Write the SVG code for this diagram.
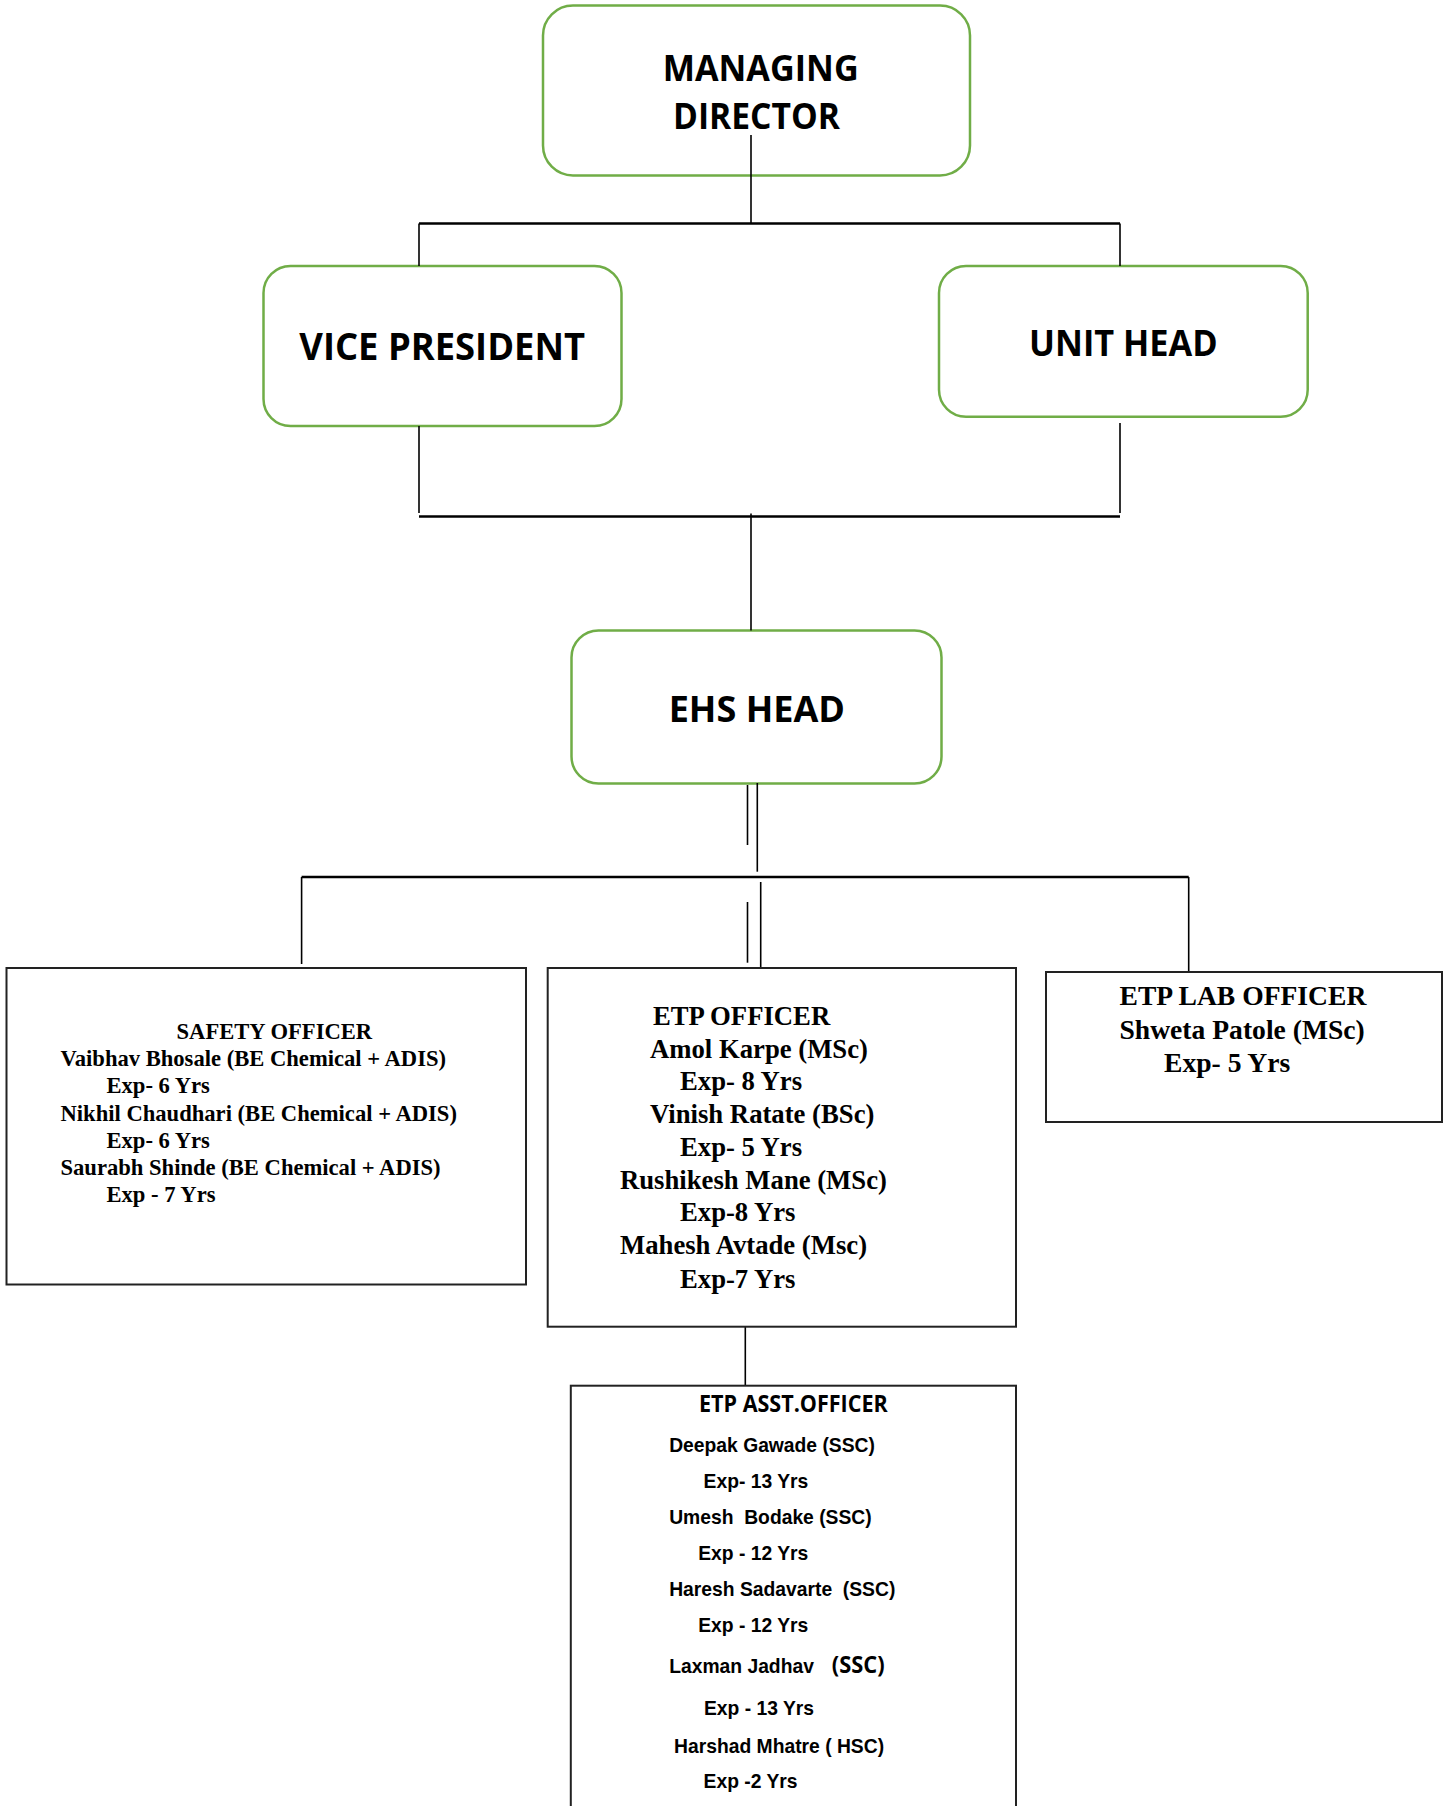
<svg xmlns="http://www.w3.org/2000/svg" width="1450" height="1806" viewBox="0 0 1450 1806">
<style>
.rbox{fill:#fff;stroke:#70AD47;stroke-width:2.5}
.sbox{fill:#fff;stroke:#222;stroke-width:2}
.conn line{stroke:#000;stroke-width:1.6}
.conn .thick{stroke-width:2.6}
.hd{font-family:"Open Sans","Liberation Sans",sans-serif;font-weight:bold;fill:#000}
.tm{font-family:"Liberation Serif","Times New Roman",serif;font-weight:bold;fill:#000}
.ar{font-family:"Liberation Sans",Arial,sans-serif;font-weight:bold;font-size:19.3px;fill:#000;white-space:pre}
</style>
<rect width="1450" height="1806" fill="#fff"/>

<g id="node-md">
<rect class="rbox" x="543" y="5.5" width="427" height="170" rx="30"/>
<text class="hd" x="662.7" y="81" font-size="36" textLength="196" lengthAdjust="spacingAndGlyphs">MANAGING</text>
<text class="hd" x="673" y="129" font-size="36" textLength="167" lengthAdjust="spacingAndGlyphs">DIRECTOR</text>
</g>

<g id="node-vp">
<rect class="rbox" x="263.5" y="266" width="358" height="160" rx="27"/>
<text class="hd" x="299.3" y="360" font-size="37" textLength="285.7" lengthAdjust="spacingAndGlyphs">VICE PRESIDENT</text>
</g>

<g id="node-uh">
<rect class="rbox" x="939" y="266" width="368.7" height="150.7" rx="27"/>
<text class="hd" x="1029" y="356" font-size="36" textLength="188.7" lengthAdjust="spacingAndGlyphs">UNIT HEAD</text>
</g>

<g id="node-ehs">
<rect class="rbox" x="571.5" y="630.5" width="370" height="153" rx="27"/>
<text class="hd" x="668.7" y="721.7" font-size="36" textLength="176.3" lengthAdjust="spacingAndGlyphs">EHS HEAD</text>
</g>

<g id="connectors" class="conn">
<line x1="751" y1="135" x2="751" y2="223.5"/>
<line class="thick" x1="419" y1="223.5" x2="1120" y2="223.5"/>
<line x1="419" y1="223.5" x2="419" y2="266"/>
<line x1="1120" y1="223.5" x2="1120" y2="266"/>
<line x1="419" y1="426" x2="419" y2="513"/>
<line x1="1120" y1="423" x2="1120" y2="513"/>
<line class="thick" x1="419" y1="516.5" x2="1120" y2="516.5"/>
<line x1="751" y1="513.5" x2="751" y2="630.5"/>
<line x1="747.5" y1="785" x2="747.5" y2="845"/>
<line x1="757.3" y1="783" x2="757.3" y2="871.7" stroke-width="2"/>
<line class="thick" x1="301.6" y1="877" x2="1188.7" y2="877"/>
<line x1="301.6" y1="877" x2="301.6" y2="964"/>
<line x1="1188.7" y1="877" x2="1188.7" y2="972"/>
<line x1="747.5" y1="902" x2="747.5" y2="962.7"/>
<line x1="760.7" y1="882" x2="760.7" y2="971.7" stroke-width="2"/>
<line x1="745.3" y1="1326.7" x2="745.3" y2="1385.7"/>
</g>

<g id="node-safety">
<rect class="sbox" x="6.5" y="968" width="519.5" height="316.5"/>
<g class="tm" font-size="22.6">
<text x="176.5" y="1039">SAFETY OFFICER</text>
<text x="60.5" y="1066.2">Vaibhav Bhosale (BE Chemical + ADIS)</text>
<text x="106.5" y="1093.4">Exp- 6 Yrs</text>
<text x="60.5" y="1120.6">Nikhil Chaudhari (BE Chemical + ADIS)</text>
<text x="106.5" y="1147.8">Exp- 6 Yrs</text>
<text x="60.5" y="1175">Saurabh Shinde (BE Chemical + ADIS)</text>
<text x="106.5" y="1202.2">Exp - 7 Yrs</text>
</g>
</g>

<g id="node-etp">
<rect class="sbox" x="547.7" y="968" width="468.3" height="358.7"/>
<g class="tm" font-size="26.7">
<text x="653" y="1025">ETP OFFICER</text>
<text x="650" y="1057.7">Amol Karpe (MSc)</text>
<text x="680" y="1090.4">Exp- 8 Yrs</text>
<text x="650" y="1123">Vinish Ratate (BSc)</text>
<text x="680" y="1155.7">Exp- 5 Yrs</text>
<text x="620" y="1188.5">Rushikesh Mane (MSc)</text>
<text x="680" y="1221.2">Exp-8 Yrs</text>
<text x="620" y="1254">Mahesh Avtade (Msc)</text>
<text x="680" y="1287.7">Exp-7 Yrs</text>
</g>
</g>

<g id="node-lab">
<rect class="sbox" x="1046" y="972" width="396" height="150"/>
<g class="tm" font-size="27.6">
<text x="1119.5" y="1004.5">ETP LAB OFFICER</text>
<text x="1119.5" y="1038.8">Shweta Patole (MSc)</text>
<text x="1164" y="1072.3">Exp- 5 Yrs</text>
</g>
</g>

<g id="node-asst">
<rect class="sbox" x="570.8" y="1385.7" width="445.2" height="440"/>
<text class="hd" x="699" y="1411.7" font-size="22.4" textLength="188.7" lengthAdjust="spacingAndGlyphs">ETP ASST.OFFICER</text>
<text class="ar" x="669.2" y="1452.3">Deepak Gawade (SSC)</text>
<text class="ar" x="703.6" y="1487.7">Exp- 13 Yrs</text>
<text class="ar" x="669.2" y="1524.3" xml:space="preserve">Umesh  Bodake (SSC)</text>
<text class="ar" x="698.2" y="1560">Exp - 12 Yrs</text>
<text class="ar" x="669.2" y="1596" xml:space="preserve">Haresh Sadavarte  (SSC)</text>
<text class="ar" x="698.2" y="1632.3">Exp - 12 Yrs</text>
<text class="ar" x="669.2" y="1672.7">Laxman Jadhav</text>
<text class="hd" x="831.8" y="1673" font-size="24" textLength="52.8" lengthAdjust="spacingAndGlyphs">(SSC)</text>
<text class="ar" x="704" y="1715">Exp - 13 Yrs</text>
<text class="ar" x="674.1" y="1752.7">Harshad Mhatre ( HSC)</text>
<text class="ar" x="703.6" y="1788.3">Exp -2 Yrs</text>
</g>
</svg>
